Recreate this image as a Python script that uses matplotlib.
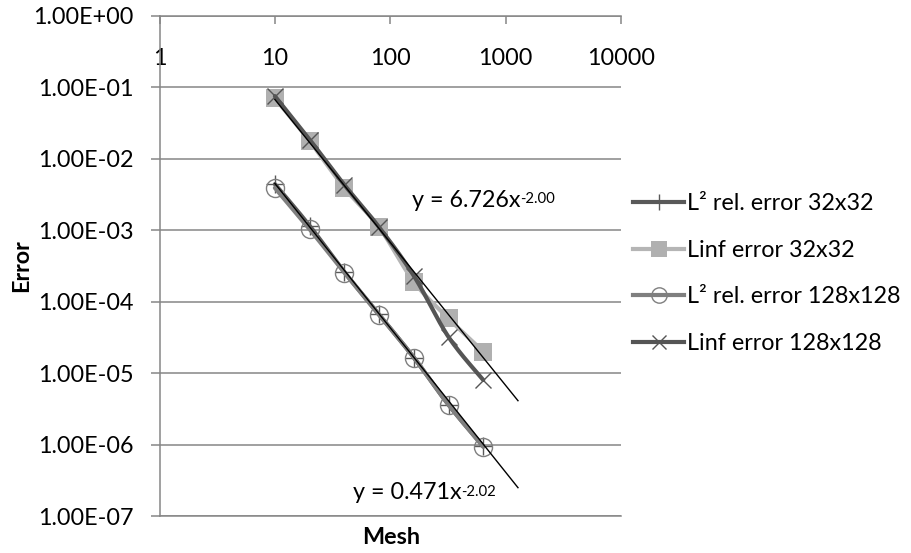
import numpy as np
import matplotlib
matplotlib.use("Agg")
import matplotlib.pyplot as plt
from matplotlib.ticker import FixedLocator, FixedFormatter, NullLocator
from matplotlib.lines import Line2D

plt.rcParams["font.family"] = ["Lato", "DejaVu Sans"]

# ---- data -------------------------------------------------------------
mesh = [10, 20, 40, 80, 160, 320, 640]
l2_32 = [4.4e-3, 1.15e-3, 2.6e-4, 6.6e-5, 1.65e-5, 3.6e-6, 9.4e-7]
linf_32 = [7.0e-2, 1.76e-2, 3.9e-3, 1.1e-3, 1.9e-4, 5.8e-5, 2.0e-5]
l2_128 = [3.9e-3, 1.03e-3, 2.55e-4, 6.5e-5, 1.65e-5, 3.6e-6, 9.3e-7]
linf_128 = [7.5e-2, 1.85e-2, 4.3e-3, 1.1e-3, 2.3e-4, 3.2e-5, 8.0e-6]

series_labels = ["L\u00b2 rel. error 32x32", "Linf error 32x32",
                 "L\u00b2 rel. error 128x128", "Linf error 128x128"]

# power-law trend lines: coefficient, exponent
fit_upper = (6.726, -2.00)
fit_lower = (0.471, -2.02)
fit_span = [10, 1280]
fit_upper_text = ("y = 6.726x", "-2.00")
fit_lower_text = ("y = 0.471x", "-2.02")

x_ticks = [1, 10, 100, 1000, 10000]
x_tick_labels = ["1", "10", "100", "1000", "10000"]
y_ticks = [1e0, 1e-1, 1e-2, 1e-3, 1e-4, 1e-5, 1e-6, 1e-7]
y_tick_labels = ["1.00E+00", "1.00E-01", "1.00E-02", "1.00E-03",
                 "1.00E-04", "1.00E-05", "1.00E-06", "1.00E-07"]

# ---- helpers ------------------------------------------------------------
def smooth_curve(xs, ys, n=24):
    """Cubic Bezier (Catmull-Rom style) through the points, in log-log space."""
    P = np.column_stack([np.log10(xs), np.log10(ys)])
    E = np.vstack([P[0], P, P[-1]])
    segs = []
    for i in range(len(P) - 1):
        p0, p1, p2, p3 = E[i], E[i + 1], E[i + 2], E[i + 3]
        c1 = p1 + (p2 - p0) / 6.0
        c2 = p2 - (p3 - p1) / 6.0
        t = np.linspace(0, 1, n, endpoint=(i == len(P) - 2))[:, None]
        b = ((1 - t) ** 3) * p1 + 3 * ((1 - t) ** 2) * t * c1 \
            + 3 * (1 - t) * t ** 2 * c2 + t ** 3 * p2
        segs.append(b)
    C = np.vstack(segs)
    return 10 ** C[:, 0], 10 ** C[:, 1]


GRID = "#868686"
FS = 16.8

fig = plt.figure(figsize=(9.12, 5.53), dpi=100)
ax = fig.add_axes([0.1749, 0.0669, 0.5060, 0.9047])
ax.set_xscale("log")
ax.set_yscale("log")
ax.set_xlim(1, 10000)
ax.set_ylim(1e-7, 1)

styles = [
    dict(color="#595959", lw=3.0, marker="+", mcolor="#595959", ms=13,
         mfc="none", mew=1.0, data=l2_32),
    dict(color="#b5b5b5", lw=3.0, marker="s", mcolor="#b0b0b0", ms=13.5,
         mfc="#b0b0b0", mew=0.0, data=linf_32),
    dict(color="#7f7f7f", lw=3.0, marker="o", mcolor="#7f7f7f", ms=13,
         mfc="none", mew=1.0, data=l2_128),
    dict(color="#555555", lw=3.0, marker="x", mcolor="#555555", ms=12,
         mfc="none", mew=1.0, data=linf_128),
]

handles = []
for k, (st, lab) in enumerate(zip(styles, series_labels)):
    sx, sy = smooth_curve(mesh, st["data"])
    z = 2 + 0.1 * k
    ax.plot(sx, sy, color=st["color"], lw=st["lw"], solid_capstyle="round",
            zorder=z)
    ax.plot(mesh, st["data"], linestyle="none", marker=st["marker"],
            markersize=st["ms"], markerfacecolor=st["mfc"],
            markeredgecolor=st["mcolor"], markeredgewidth=st["mew"],
            zorder=z + 0.05)
    handles.append(Line2D([], [], color=st["color"], lw=st["lw"],
                          marker=st["marker"], markersize=st["ms"] * 0.85,
                          markerfacecolor=st["mfc"],
                          markeredgecolor=st["mcolor"],
                          markeredgewidth=st["mew"], label=lab))

# trend lines
fx = np.array(fit_span, dtype=float)
for a, b in (fit_upper, fit_lower):
    ax.plot(fx, a * fx ** b, color="black", lw=1.0, zorder=3)

# trend equations
def equation(xf, yf, parts):
    base = ax.text(xf, yf, parts[0], transform=ax.transAxes, fontsize=FS,
                   ha="left", va="center_baseline", zorder=4)
    ax.annotate(parts[1], xy=(1.0, 0.88), xycoords=base, fontsize=FS * 0.64,
                ha="left", va="top", zorder=4)

equation(0.5465, 0.6356, fit_upper_text)
equation(0.4186, 0.0504, fit_lower_text)

# axes styling
ax.spines["right"].set_visible(False)
for side in ("top", "left", "bottom"):
    ax.spines[side].set_color(GRID)
    ax.spines[side].set_linewidth(1.1)

ax.yaxis.set_major_locator(FixedLocator(y_ticks))
ax.yaxis.set_major_formatter(FixedFormatter(y_tick_labels))
ax.yaxis.set_minor_locator(NullLocator())
ax.xaxis.set_major_locator(FixedLocator(x_ticks))
ax.xaxis.set_major_formatter(FixedFormatter(x_tick_labels))
ax.xaxis.set_minor_locator(NullLocator())

ax.grid(axis="y", color=GRID, lw=1.1)
ax.set_axisbelow(True)

ax.tick_params(axis="y", direction="out", length=6.5, width=1.1, color=GRID,
               labelsize=FS, pad=12)
ax.xaxis.set_ticks_position("top")
ax.tick_params(axis="x", direction="in", length=5.8, width=1.1, color=GRID,
               labelsize=FS, labeltop=True, labelbottom=False, pad=-35.5)
for t in ax.xaxis.get_major_ticks():
    t.label2.set_va("baseline")

fig.text(22 / 912, 1 - 266 / 553, "Error", rotation=90, fontsize=FS,
         fontweight="bold", ha="center", va="center")
fig.text(391 / 912, 1 - 538 / 553, "Mesh", fontsize=FS, fontweight="bold",
         ha="center", va="center")

fig.legend(handles=handles, loc="center left",
           bbox_to_anchor=(633 / 912, 1 - 273.5 / 553), frameon=False,
           fontsize=FS, handlelength=2.2, handletextpad=0.12,
           labelspacing=1.1, borderpad=0, borderaxespad=0)

fig.savefig("out.png", dpi=100)
